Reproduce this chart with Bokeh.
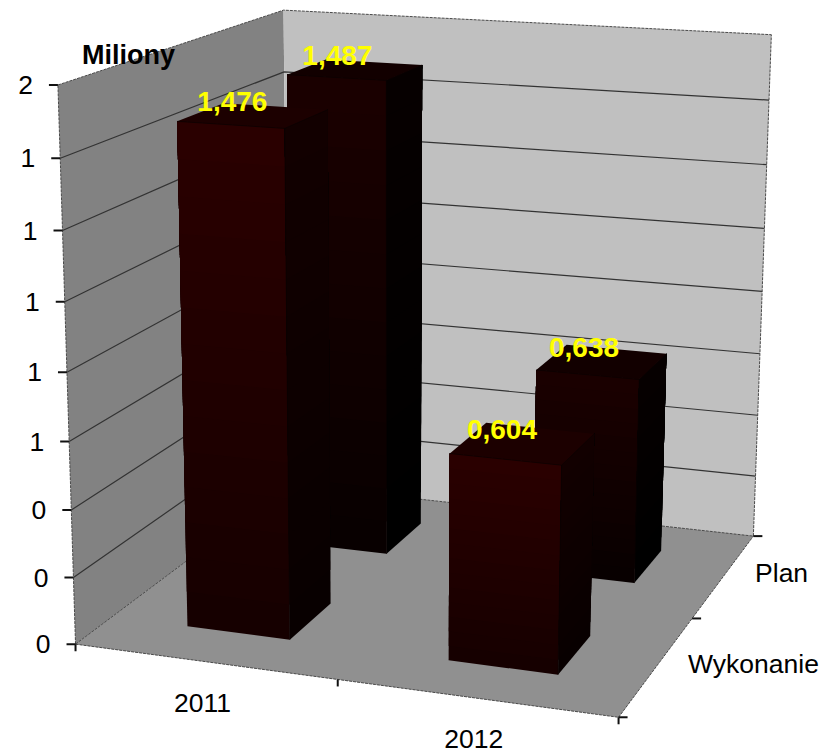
import numpy as np
from bokeh.plotting import figure
from bokeh.embed import file_html
from bokeh.resources import INLINE
from bokeh.core.properties import value

# ---- data ----
categories = ["2011", "2012"]
series = ["Wykonanie", "Plan"]
wykonanie = [1.476, 0.604]
plan = [1.487, 0.638]
data_labels_wyk = ["1,476", "0,604"]
data_labels_plan = ["1,487", "0,638"]
y_ticks = [0.0, 0.2, 0.4, 0.6, 0.8, 1.0, 1.2, 1.4, 1.6]
y_tick_labels = ["0", "0", "0", "1", "1", "1", "1", "1", "2"]
y_title = "Miliony"

Y_MAX = 1.6
GAP = 0.3      # Excel's default 150 % gap -> 0.3 of a category on each side

# ---- camera: fit of a projective matrix to the plot box's visible corners ----
box_world = np.array([
    [0, 0, 0], [2, 0, 0], [2, 2, 0], [0, 2, 0],
    [0, 0, 1.6], [0, 2, 1.6], [2, 2, 1.6],
    [1, 0, 0], [2, 1, 0], [0, 0, 0.8], [2, 2, 0.8],
], dtype=float)
box_image = np.array([
    [75, 643], [617, 716], [753, 535], [288, 484],
    [58, 84], [282, 10], [771, 34],
    [337, 682], [692, 617], [67, 371], [762, 292],
], dtype=float)


def fit_camera(w, i):
    rows = []
    for (x, z, y), (u, v) in zip(w, i):
        u, v = u / 800, v / 800
        rows.append([x, y, z, 1, 0, 0, 0, 0, -u * x, -u * y, -u * z, -u])
        rows.append([0, 0, 0, 0, x, y, z, 1, -v * x, -v * y, -v * z, -v])
    return np.linalg.svd(np.array(rows))[2][-1].reshape(3, 4)


CAM = fit_camera(box_world, box_image)


def proj(x, z, y):
    q = CAM @ np.array([x, y, z, 1.0])
    return float(q[0] / q[2] * 800), float(q[1] / q[2] * 800)


def poly(points):
    pts = [proj(*a) for a in points]
    return [a[0] for a in pts], [a[1] for a in pts]


p = figure(width=825, height=755, x_range=(0, 825), y_range=(755, 0),
           output_backend="svg", toolbar_location=None, min_border=0,
           background_fill_color="white", border_fill_color="white")
p.axis.visible = False
p.grid.visible = False
p.outline_line_color = None

FONT = value("Liberation Sans")
WALL_EDGE = "#4a4a4a"

# walls and floor
xs, ys = poly([(0, 0, 0), (0, 2, 0), (0, 2, 1.6), (0, 0, 1.6)])
p.patch(xs, ys, fill_color="#828282", line_color=None)
xs, ys = poly([(0, 2, 0), (2, 2, 0), (2, 2, 1.6), (0, 2, 1.6)])
p.patch(xs, ys, fill_color="#c0c0c0", line_color=None)
xs, ys = poly([(0, 0, 0), (2, 0, 0), (2, 2, 0), (0, 2, 0)])
p.patch(xs, ys, fill_color="#909090", line_color=None)

# gridlines along both walls
for t in y_ticks[1:-1]:
    xs, ys = poly([(0, 0, t), (0, 2, t), (2, 2, t)])
    p.line(xs, ys, line_color="#333333", line_width=1.2)

# box edges
for a in ([(0, 0, 1.6), (0, 2, 1.6), (2, 2, 1.6)],
          [(0, 0, 0), (0, 2, 0)],
          [(0, 2, 0), (2, 2, 0)],
          [(0, 0, 0), (2, 0, 0), (2, 2, 0)],
          [(2, 2, 0), (2, 2, 1.6)],
          [(0, 0, 0), (0, 0, 1.6)]):
    xs, ys = poly(a)
    p.line(xs, ys, line_color=WALL_EDGE, line_width=1, line_dash="3 1")


def shade(c0, c1, f):
    return "#%02x0000" % int(round(c0 + (c1 - c0) * f))


def bar(ix, iz, v, front, side, top):
    x0, x1 = ix + GAP, ix + 1 - GAP
    z0, z1 = iz + GAP, iz + 1 - GAP
    bands = 14
    # each band runs up to the bar's top and is overpainted by the next,
    # so no seams appear between the steps of the gradient
    for (c, corners_of) in (
        (front, lambda a: [(x0, z0, a), (x1, z0, a), (x1, z0, v), (x0, z0, v)]),
        (side, lambda a: [(x1, z0, a), (x1, z1, a), (x1, z1, v), (x1, z0, v)]),
    ):
        for k in range(bands):
            xs, ys = poly(corners_of(v * k / bands))
            p.patch(xs, ys, fill_color=shade(c[0], c[1], k / (bands - 1)), line_color=None)
    col = shade(top, top, 0)
    xs, ys = poly([(x0, z0, v), (x1, z0, v), (x1, z1, v), (x0, z1, v)])
    p.patch(xs, ys, fill_color=col, line_color=None)
    # thin dark outline of the faces
    for a in ([(x1, z0, 0), (x1, z0, v)], [(x0, z0, v), (x1, z0, v), (x1, z1, v)]):
        xs, ys = poly(a)
        p.line(xs, ys, line_color="#0c0000", line_width=0.7)


# back row first
for i in range(len(categories)):
    bar(i, 1, plan[i], (8, 26), (0, 6), 18)
for i in range(len(categories)):
    bar(i, 0, wykonanie[i], (22, 42), (8, 18), 28)

# ticks and labels: value axis
for t, lab in zip(y_ticks, y_tick_labels):
    px, py = proj(0, 0, t)
    p.line([px - 9, px], [py, py], line_color="#111111", line_width=2)
    p.text([px - 25], [py], text=[lab], text_font=FONT, text_font_size="26.5px",
           text_color="black", text_align="right", text_baseline="middle")

# category axis
for k in range(3):
    px, py = proj(k, 0, 0)
    p.line([px, px], [py, py + 7], line_color="#111111", line_width=2)
for i, c in enumerate(categories):
    px, py = proj(i + 0.5, 0, 0)
    p.text([px - 2], [py + 41], text=[c], text_font=FONT, text_font_size="26.5px",
           text_color="black", text_align="center", text_baseline="middle")

# depth axis
for k in range(3):
    px, py = proj(2, k, 0)
    p.line([px, px + 9], [py, py], line_color="#111111", line_width=2)
for i, s in enumerate(series):
    px, py = proj(2, i + 0.5, 0)
    p.text([px + 31], [py - 2], text=[s], text_font=FONT, text_font_size="26.5px",
           text_color="black", text_align="left", text_baseline="middle")

# data labels
for iz, (vals, labs, dx) in enumerate(((wykonanie, data_labels_wyk, -21), (plan, data_labels_plan, -18))):
    for i, (v, lab) in enumerate(zip(vals, labs)):
        px, py = proj(i + 0.5, iz + 0.5, v)
        p.text([px + dx], [py - 14], text=[lab], text_font=FONT, text_font_size="28px",
               text_font_style="bold", text_color="#ffff00",
               text_align="center", text_baseline="middle")

# axis title
px, py = proj(0, 0, Y_MAX)
p.text([px + 24], [py - 30], text=[y_title], text_font=FONT, text_font_size="27px",
       text_font_style="bold", text_color="black", text_align="left", text_baseline="middle")

open("out.html", "w").write(file_html(p, INLINE))
